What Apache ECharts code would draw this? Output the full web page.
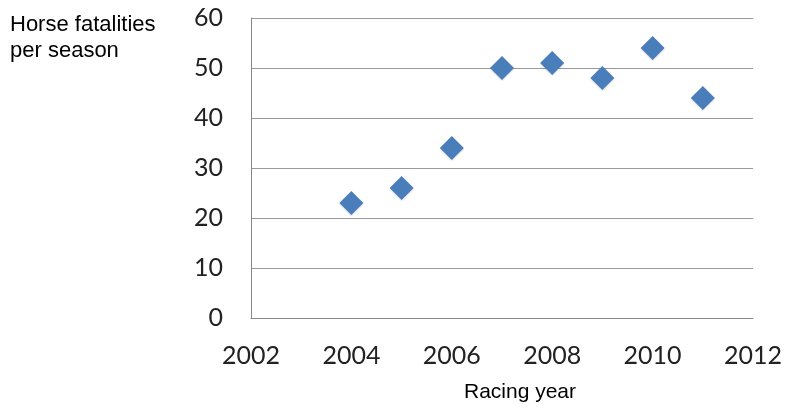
<!DOCTYPE html>
<html><head><meta charset="utf-8">
<script src="https://cdn.jsdelivr.net/npm/echarts@6/dist/echarts.min.js"></script>
<style>html,body{margin:0;padding:0;background:#fff}#c{width:785px;height:408px}</style>
</head><body><div id="c"></div>
<script>
const years = [2004, 2005, 2006, 2007, 2008, 2009, 2010, 2011];
const fatalities = [23, 26, 34, 50, 51, 48, 54, 44];
const yTitle = 'Horse fatalities\nper season';
const xTitle = 'Racing year';

const chart = echarts.init(document.getElementById('c'));
chart.setOption({
  animation: false,
  title: {
    text: yTitle, left: 10, top: 12, padding: 0,
    textStyle: {fontFamily: 'Liberation Sans', fontSize: 22, fontWeight: 'normal', color: '#000', lineHeight: 26}
  },
  grid: {left: 251, right: 32, top: 18, bottom: 88},
  xAxis: {
    type: 'value', min: 2002, max: 2012, interval: 2,
    name: xTitle, nameLocation: 'middle', nameGap: 64,
    nameTextStyle: {fontFamily: 'Liberation Sans', fontSize: 21, color: '#000', padding: [0, 0, 0, 36]},
    axisLine: {show: true, lineStyle: {color: '#888', width: 1}},
    axisTick: {show: false},
    splitLine: {show: false},
    axisLabel: {fontFamily: 'Lato', fontSize: 25, color: '#222', margin: 25, formatter: v => String(v)}
  },
  yAxis: {
    type: 'value', min: 0, max: 60, interval: 10,
    axisLine: {show: true, lineStyle: {color: '#888', width: 1}},
    axisTick: {show: false},
    splitLine: {show: true, lineStyle: {color: '#999', width: 1}},
    axisLabel: {fontFamily: 'Lato', fontSize: 25, color: '#222', margin: 28}
  },
  series: [{
    type: 'scatter',
    symbol: 'diamond',
    symbolSize: [24, 24],
    data: years.map((y, i) => [y, fatalities[i]]),
    itemStyle: {color: '#4a7ebb', opacity: 1, shadowColor: 'rgba(0,0,0,0.15)', shadowBlur: 2, shadowOffsetY: 1}
  }]
});
</script></body></html>
